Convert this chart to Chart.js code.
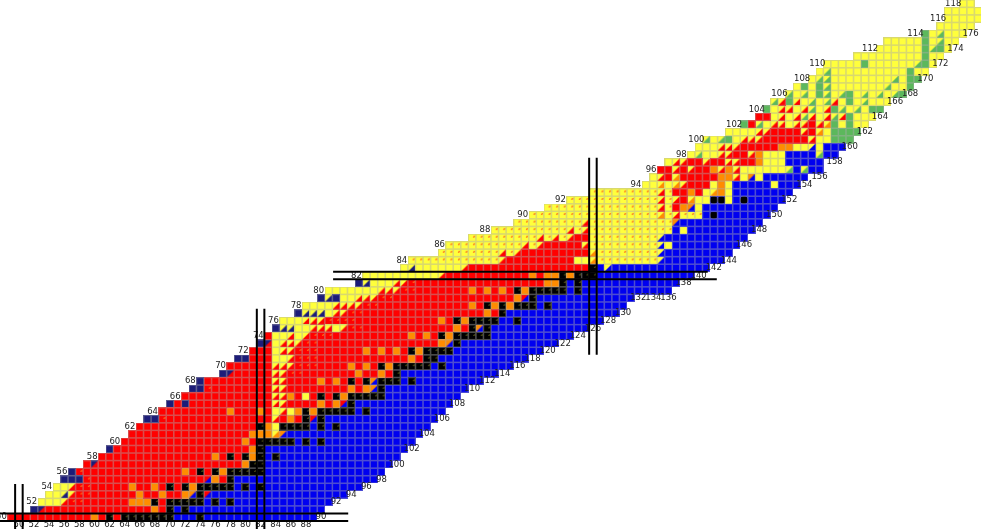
<!DOCTYPE html>
<html>
<head>
<meta charset="utf-8">
<title>Chart of nuclides</title>
<script src="https://cdn.jsdelivr.net/npm/chart.js@4"></script>
<style>
  html, body { margin: 0; padding: 0; background: #fff; }
  canvas { display: block; }
</style>
</head>
<body>
<canvas id="chart" width="981" height="529"></canvas>
<script>
// one string per proton number, starting at firstZ
// each token is "<first neutron number><cell code>", the last token is the last neutron number of the row
const firstZ = 50;
const cellRows = [
  "49R 60O 61R 62K 63R 64K 71B 74K 75B 89",
  "52N 53n 54R 68O 69R 70K 71B 72K 73B 90",
  "53Y 56a 57r 59R 65O 68K 69R 70K 75B 76K 77B 78K 79B 91",
  "54Y 56h 57a 58r 60R 66O 67R 69O 70R 72O 73q 74K 75s 76B 93",
  "55Y 57a 58r 60R 65O 66R 68O 69R 70K 71R 72K 73O 74K 79B 80K 81B 82K 83B 95",
  "56N 59r 60R 75s 76O 77R 78K 79B 97",
  "57N 58r 59R 72O 73R 74K 75R 76K 77O 78K 83B 98",
  "59R 60n 61R 80O 81K 83B 99",
  "61R 76O 77R 78K 79R 80K 81O 82K 83B 84K 85B 100",
  "62N 63R 81O 82K 83B 101",
  "64R 80O 81R 82K 87B 88K 89B 90K 91B 102",
  "65R 81O 84u 85q 86B 103",
  "66R 82K 83O 84Y 85K 89B 90K 91B 92K 93B 104",
  "67N 69r 70R 84a 85R 86O 87R 88K 89s 90K 91B 105",
  "69R 78O 79R 82O 83R 84Y 85a 86Y 87O 88K 89O 90K 95B 96K 97B 106",
  "70N 71R 72N 73R 84a 86R 90O 91R 92O 93s 94K 95B 107",
  "72R 84a 86O 87R 88Y 89R 90K 91R 92K 93O 94K 99B 108",
  "73N 75r 76R 84a 86R 94O 95R 96O 97q 98K 99B 109",
  "74N 75R 84a 86R 90O 91R 92O 93R 94K 95R 96K 97q 98K 101B 102K 103B 111",
  "77N 78n 79R 84a 86r 88R 95O 96R 98O 99R 100K 101B 113",
  "78R 84a 87r 90R 94O 95R 96O 97R 98K 99O 100K 105B 106K 107B 115",
  "79N 81R 84Y 86a 87r 90R 102O 103R 104K 106B 117",
  "81R 84Y 85a 87r 90R 96O 97R 98O 99R 100O 101R 102K 103O 104K 108B 119",
  "82N 83n 84Y 85a 88r 90R 106O 107q 108K 109B 121",
  "83R 84Y 86a 87Y 88a 89r 92R 102O 103R 104O 105R 106K 107O 108K 113B 123",
  "84N 85h 87Y 89a 92Y 93a 94r 96R 108O 109R 110K 111q 112K 113B 125",
  "85Y 88a 91r 95R 106O 107R 108K 109O 110K 114B 116K 117B 127",
  "87N 88h 91Y 92a 94r 96R 112O 113R 114K 115B 129",
  "88Y 92a 96r 98R 110O 111R 112K 113O 114K 115O 116K 119B 120K 121B 130",
  "90N 91h 92N 93Y 95a 98r 100R 116O 117s 118K 119B 131",
  "91Y 98a 101r 103R 110O 111R 112O 113R 114O 115R 116K 117O 118K 123B 124K 125B 136",
  "95N 96h 97Y 100a 102r 103R 120O 122K 123B 124K 125B 137",
  "96Y 106a 107R 118O 119R 120O 122K 123O 124K 127B 139",
  "101Y 102h 103Y 109a 110R 126K 127B 128x 129B 141",
  "102y 114a 115R 124Y 126u 127y 135x 136B 143",
  "106y 114a 115y 116a 117R 126u 127y 135x 136B 144",
  "107y 117a 118y 119a 120R 125a 126y 135x 136Y 137B 145",
  "110y 119a 120y 121a 122y 123a 124R 126y 135x 136B 146",
  "113y 123a 124y 125a 126y 137B 138Y 139B 147",
  "116y 125a 126y 137q 138B 148",
  "118y 135u 136y 137a 138y 141B 142c 143B 149",
  "120y 135a 136y 137R 138O 139q 140Y 141B 150",
  "123y 135a 136y 137a 138R 139u 140Y 142c 144Y 145B 146c 147B 151",
  "126y 135a 136y 137R 139O 140R 141Y 142u 143O 144Y 145B 152",
  "133Y 135u 136Y 137u 138a 139R 142Y 143O 144Y 145B 150Y 151B 153",
  "134Y 135a 136R 137u 138R 143O 145a 146Y 147q 148Y 149B 154",
  "135R 137a 138R 139a 140R 142O 143a 144O 145a 146Y 152g 153B 154g 155B 156",
  "136Y 137a 139R 141a 142R 144a 146R 148O 149Y 152B 156",
  "139Y 140g 141Y 143a 145R 147a 148O 149Y 152B 156g 157B 158",
  "140Y 143a 146R 151O 153Y 155x 156Y 157B 159",
  "141g 142Y 143g 144G 145Y 146a 149R 155a 156Y 158G 160",
  "144Y 148a 150R 154a 155R 156u 157Y 158G 161",
  "146G 147R 148g 149Y 150a 152Y 153a 155R 156a 157u 158G 159Y 160G 161Y 162",
  "148R 150Y 151a 152Y 153a 154g 155a 156Y 157a 158g 159a 160G 161Y 163",
  "149G 150Y 151a 153Y 154a 155g 156Y 157a 158G 159g 160Y 161g 162Y 163G 164",
  "150g 151a 152G 153a 154Y 155g 156Y 157g 158a 159Y 160G 161Y 162g 163Y 165",
  "152g 153Y 154g 155Y 156G 157g 158Y 159g 160G 161Y 162g 163Y 164g 165Y 166g 167G 167",
  "153Y 154G 155Y 156G 157g 158Y 165g 166Y 168G 168",
  "155Y 156g 158Y 166g 167Y 168G 169",
  "156Y 157g 158Y 168G 169Y 170",
  "157Y 162G 163Y 169g 170G 171Y 171",
  "161Y 170G 171Y 172",
  "164Y 170G 171g 172G 173Y 173",
  "165Y 170G 171Y 172g 173Y 174",
  "170G 171Y 172g 173Y 175",
  "172Y 176",
  "173Y 177",
  "173Y 177",
  "175Y 176"
];

// labels along the lower right edge, and the row each one sits on
const nLabels = [50,52,54,56,58,60,62,64,66,68,70,72,74,76,78,80,82,84,86,88,90,92,94,96,98,100,102,104,106,108,110,112,114,116,118,120,122,124,126,128,130,132,134,136,138,140,142,144,146,148,150,152,154,156,158,160,162,164,166,168,170,172,174,176];
const nLabelRows = [49,49,49,49,49,49,49,49,49,49,49,49,49,49,49,49,49,49,49,49,50,52,53,54,55,57,59,61,63,65,67,68,69,70,71,72,73,74,75,76,77,79,79,79,81,82,83,84,86,88,90,92,94,95,97,99,101,103,105,106,108,110,112,114];

// closed shell lines: [n1, z1, n2, z2]
const shellLines = [
  [49.5, 54.4, 49.5, 48.4], [50.5, 54.4, 50.5, 48.4],
  [81.5, 77.6, 81.5, 48.4], [82.5, 77.6, 82.5, 48.4],
  [125.5, 97.6, 125.5, 71.5], [126.5, 97.6, 126.5, 71.5],
  [47.5, 50.5, 93.6, 50.5], [47.5, 49.5, 93.6, 49.5],
  [91.6, 82.5, 141.2, 82.5], [91.6, 81.5, 142.4, 81.5]
];

const RED = "#ff0000", YEL = "#ffff3c", BLU = "#0000f0", BLK = "#000000";
const ORG = "#ff8c00", NVY = "#1c1c78", GRN = "#5cb85c";

const cellStyles = {
  R: { fill: RED }, Y: { fill: YEL }, B: { fill: BLU }, O: { fill: ORG }, N: { fill: NVY }, G: { fill: GRN },
  K: { fill: BLK, dot: YEL, dotSize: 1.3 },
  r: { fill: RED, dot: YEL, dotSize: 1.5 },
  y: { fill: YEL, dot: RED, dotSize: 1.8 },
  c: { fill: BLU, disc: BLK },
  a: { fill: YEL, half: RED },
  n: { fill: NVY, half: RED },
  h: { fill: YEL, half: NVY },
  g: { fill: YEL, half: GRN },
  q: { fill: ORG, half: BLU },
  s: { fill: RED, half: BLU },
  u: { fill: YEL, half: ORG },
  x: { fill: YEL, half: BLU }
};

function makeSprite(style) {
  const s = 8;
  const c = document.createElement("canvas");
  c.width = s;
  c.height = s;
  const g = c.getContext("2d");
  g.fillStyle = style.fill;
  g.fillRect(0, 0, s, s);
  if (style.half) {
    g.fillStyle = style.half;
    g.beginPath();
    g.moveTo(0, s); g.lineTo(s, 0); g.lineTo(s, s);
    g.fill();
  }
  if (style.dot) {
    g.fillStyle = style.dot;
    g.beginPath();
    g.moveTo(6.5 - style.dotSize, 3.5); g.lineTo(6.5, 3.5); g.lineTo(6.5, 3.5 - style.dotSize);
    g.fill();
  }
  if (style.disc) {
    g.fillStyle = style.disc;
    g.beginPath();
    g.arc(4, 4, 3.8, 0, Math.PI * 2);
    g.fill();
  }
  g.strokeStyle = "rgba(170,170,170,0.45)";
  g.lineWidth = 1;
  g.strokeRect(0.5, 0.5, s - 1, s - 1);
  return c;
}

// decode the rows into one list of points per cell code
const cellsByCode = {};
cellRows.forEach((row, i) => {
  const tokens = row.split(" ");
  for (let t = 0; t < tokens.length - 1; t++) {
    const from = parseInt(tokens[t]);
    const code = tokens[t].slice(-1);
    const isLast = t === tokens.length - 2;
    const to = isLast ? parseInt(tokens[t + 1]) : parseInt(tokens[t + 1]) - 1;
    if (!cellsByCode[code]) cellsByCode[code] = [];
    for (let n = from; n <= to; n++) cellsByCode[code].push({ x: n, y: firstZ + i });
  }
});

const lineSets = shellLines.map(l => ({
  data: [{ x: l[0], y: l[1] }, { x: l[2], y: l[3] }],
  showLine: true,
  borderColor: "#000",
  borderWidth: 2,
  pointRadius: 0
}));

const cellSets = Object.keys(cellsByCode).map(code => ({
  data: cellsByCode[code],
  pointStyle: makeSprite(cellStyles[code]),
  pointRadius: 4,
  showLine: false
}));

// labels go over the cells but under the shell lines, and datasets draw from the last index to the first
const labelPlugin = {
  id: "edgeLabels",
  afterDatasetDraw(chart, args) {
    if (args.index !== lineSets.length) return;
    const { ctx, scales } = chart;
    ctx.save();
    ctx.font = "8.5px 'DejaVu Sans'";
    ctx.fillStyle = "#222";
    ctx.textAlign = "center";
    ctx.textBaseline = "middle";
    cellRows.forEach((row, i) => {
      const z = firstZ + i;
      if (z % 2 !== 0) return;
      const first = parseInt(row);
      ctx.fillText(String(z), scales.x.getPixelForValue(first - 1.3), scales.y.getPixelForValue(z));
    });
    nLabels.forEach((n, i) => {
      ctx.fillText(String(n), scales.x.getPixelForValue(n), scales.y.getPixelForValue(nLabelRows[i]));
    });
    ctx.restore();
  }
};

new Chart(document.getElementById("chart"), {
  type: "scatter",
  data: { datasets: [...lineSets, ...cellSets] },
  options: {
    responsive: false,
    animation: false,
    layout: { padding: 0, autoPadding: false },
    plugins: { legend: { display: false }, tooltip: { enabled: false } },
    scales: {
      x: { type: "linear", display: false, min: 47.498, max: 177.38 },
      y: { type: "linear", display: false, min: 48.44, max: 118.47 }
    }
  },
  plugins: [labelPlugin]
});
</script>
</body>
</html>
